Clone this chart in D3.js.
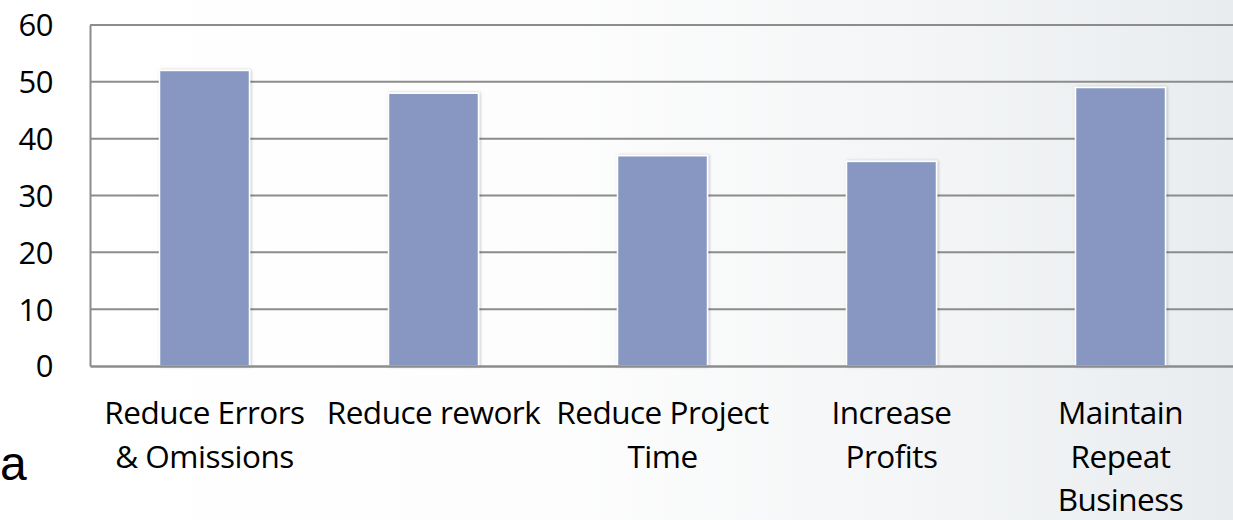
<!DOCTYPE html>
<html>
<head>
<meta charset="utf-8">
<script src="https://cdn.jsdelivr.net/npm/d3@7"></script>
<style>
  html, body { margin: 0; padding: 0; overflow: hidden; }
  svg { display: block; }
</style>
</head>
<body>
<script>
// Chart data
const categories = [
  ["Reduce Errors", "& Omissions"],
  ["Reduce rework"],
  ["Reduce Project", "Time"],
  ["Increase", "Profits"],
  ["Maintain", "Repeat", "Business"]
];
const values = [52, 48, 37, 36, 49];
const yTicks = [0, 10, 20, 30, 40, 50, 60];

const width = 1233;
const height = 520;
const margin = { top: 25, left: 90, right: -2, bottom: 154 };

const svg = d3.select("body")
  .append("svg")
  .attr("width", width)
  .attr("height", height);

// slide background: white fading to a pale blue-grey on the right
const defs = svg.append("defs");
const grad = defs.append("linearGradient")
  .attr("id", "bg")
  .attr("x1", "0%").attr("x2", "100%")
  .attr("y1", "0%").attr("y2", "0%");
grad.append("stop").attr("offset", "0%").attr("stop-color", "#ffffff");
grad.append("stop").attr("offset", "45%").attr("stop-color", "#fdfdfd");
grad.append("stop").attr("offset", "75%").attr("stop-color", "#f3f5f6");
grad.append("stop").attr("offset", "100%").attr("stop-color", "#e9ecef");

const shadow = defs.append("filter")
  .attr("id", "shadow")
  .attr("x", "-10%").attr("y", "-10%")
  .attr("width", "120%").attr("height", "120%");
shadow.append("feDropShadow")
  .attr("dx", 1).attr("dy", 0)
  .attr("stdDeviation", 1.5)
  .attr("flood-color", "#000")
  .attr("flood-opacity", 0.25);

svg.append("rect")
  .attr("width", width)
  .attr("height", height)
  .attr("fill", "url(#bg)");

// Scales
const x = d3.scaleBand()
  .domain(d3.range(categories.length))
  .range([margin.left, width - margin.right])
  .paddingInner(0.607)
  .paddingOuter(0.3035);

const y = d3.scaleLinear()
  .domain([0, 60])
  .range([height - margin.bottom, margin.top]);

// Gridlines
svg.append("g")
  .selectAll("line")
  .data(yTicks.filter(d => d > 0))
  .enter()
  .append("line")
  .attr("x1", margin.left)
  .attr("x2", width)
  .attr("y1", d => y(d))
  .attr("y2", d => y(d))
  .attr("stroke", "#8c8c8c")
  .attr("stroke-width", 2);

// Y axis
const yAxis = d3.axisLeft(y)
  .tickValues(yTicks)
  .tickSize(0)
  .tickPadding(37);

const yg = svg.append("g")
  .attr("transform", `translate(${margin.left},0)`)
  .call(yAxis);
yg.select(".domain")
  .attr("stroke", "#8c8c8c")
  .attr("stroke-width", 2);
yg.selectAll("text")
  .attr("font-family", "'Open Sans', 'Noto Sans', sans-serif")
  .attr("font-size", 31)
  .attr("letter-spacing", -0.5)
  .attr("fill", "#000")
  .attr("dy", "0.35em");

// Bars
svg.append("g")
  .selectAll("rect")
  .data(values)
  .enter()
  .append("rect")
  .attr("x", (d, i) => x(i))
  .attr("y", d => y(d))
  .attr("width", x.bandwidth())
  .attr("height", d => y(0) - y(d))
  .attr("fill", "#8797c1")
  .attr("stroke", "#ffffff")
  .attr("stroke-width", 1.5)
  .attr("filter", "url(#shadow)");

// X axis line
const xAxis = d3.axisBottom(x)
  .tickSize(0)
  .tickFormat("");
const xg = svg.append("g")
  .attr("transform", `translate(0,${y(0)})`)
  .call(xAxis);
xg.select(".domain")
  .attr("stroke", "#8c8c8c")
  .attr("stroke-width", 2.5);

// Category labels (wrapped lines)
const labels = svg.append("g")
  .selectAll("text")
  .data(categories)
  .enter()
  .append("text")
  .attr("x", (d, i) => x(i) + x.bandwidth() / 2)
  .attr("y", 424)
  .attr("text-anchor", "middle")
  .attr("font-family", "'Open Sans', 'Noto Sans', sans-serif")
  .attr("font-size", 31.5)
  .attr("letter-spacing", -0.5)
  .attr("fill", "#000");

labels.selectAll("tspan")
  .data(d => d)
  .enter()
  .append("tspan")
  .attr("x", function () { return d3.select(this.parentNode).attr("x"); })
  .attr("dy", (d, i) => i === 0 ? 0 : 43.5)
  .text(d => d);

// fragment of slide text at the left edge
svg.append("text")
  .attr("x", 0)
  .attr("y", 480)
  .attr("font-family", "'Liberation Sans', Arial, sans-serif")
  .attr("font-size", 48)
  .attr("fill", "#000")
  .text("a");
</script>
</body>
</html>
